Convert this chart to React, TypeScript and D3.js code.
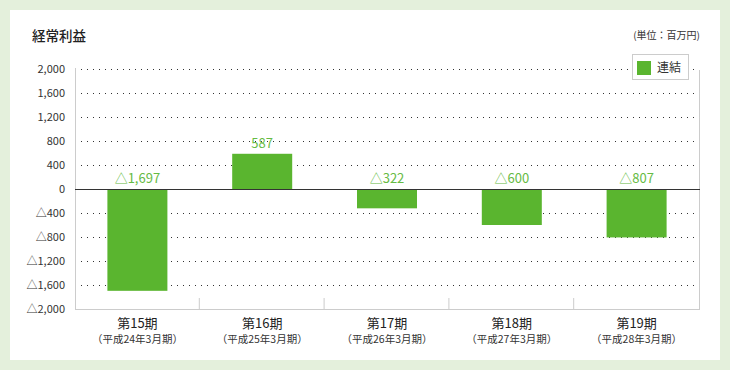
import React from "react";
import * as d3 from "d3";

const periods = ["第15期", "第16期", "第17期", "第18期", "第19期"];
const fiscalYears = [
  "（平成24年3月期）",
  "（平成25年3月期）",
  "（平成26年3月期）",
  "（平成27年3月期）",
  "（平成28年3月期）",
];
const ordinaryProfit = [-1697, 587, -322, -600, -807];
const yTicks = [2000, 1600, 1200, 800, 400, 0, -400, -800, -1200, -1600, -2000];

const width = 730;
const height = 370;
const margin = { top: 69, right: 31, bottom: 61, left: 75 };
const font = "'Noto Sans CJK JP', 'Noto Sans', sans-serif";
const green = "#5ab52f";
const labelGreen = "#66bb44";

// negative numbers are written with △ in Japanese reports
const fmt = (v: number) =>
  v < 0 ? "△" + d3.format(",")(-v) : d3.format(",")(v);

const App = () => {
  const x = d3
    .scaleBand<number>()
    .domain(d3.range(periods.length))
    .range([margin.left, width - margin.right])
    .paddingInner(0)
    .paddingOuter(0);
  const y = d3
    .scaleLinear()
    .domain([-2000, 2000])
    .range([height - margin.bottom, margin.top]);
  const barW = 60;
  const left = margin.left;
  const right = width - margin.right + 1;
  const bottom = y(-2000);

  return (
    <svg
      width={width}
      height={height}
      style={{ position: "absolute", left: 0, top: 0, fontFamily: font }}
    >
      <rect width={width} height={height} fill="#e4f0dc" />
      <rect x={10} y={10} width={710} height={350} fill="#fff" />

      <text x={32} y={41} fontSize={13.5} fontWeight={500} fill="#222">
        経常利益
      </text>
      <text x={700} y={39} fontSize={10} fill="#333" textAnchor="end">
        (単位：百万円)
      </text>

      {/* grid */}
      {yTicks
        .filter((t) => t !== 0 && t !== -2000)
        .map((t) => (
          <line
            key={t}
            x1={left + 6}
            x2={right - 3}
            y1={y(t) + 0.5}
            y2={y(t) + 0.5}
            stroke="#333"
            strokeDasharray="1,5"
          />
        ))}

      {/* frame */}
      <line x1={left + 0.5} x2={left + 0.5} y1={y(2000) - 1} y2={bottom} stroke="#ccc" />
      <line x1={right - 0.5} x2={right - 0.5} y1={y(2000) + 1} y2={bottom} stroke="#ccc" />
      <line x1={left} x2={right} y1={bottom + 0.5} y2={bottom + 0.5} stroke="#ccc" />
      {d3.range(1, periods.length).map((i) => (
        <line
          key={i}
          x1={x(i)! - 0.5}
          x2={x(i)! - 0.5}
          y1={bottom - 11}
          y2={bottom}
          stroke="#ccc"
        />
      ))}

      {/* y labels */}
      {yTicks.map((t) => (
        <text
          key={t}
          x={65}
          y={y(t) + 4}
          fontSize={11}
          fill="#333"
          textAnchor="end"
        >
          {fmt(t)}
        </text>
      ))}

      {/* bars */}
      {ordinaryProfit.map((v, i) => {
        const cx = x(i)! + x.bandwidth() / 2;
        const y0 = y(0);
        const y1 = y(v);
        return (
          <g key={i}>
            <rect
              x={cx - barW / 2}
              y={Math.min(y0, y1)}
              width={barW}
              height={Math.abs(y1 - y0)}
              fill={green}
            />
            <text
              x={cx}
              y={Math.min(y0, y1) - 6}
              fontSize={13}
              fill={labelGreen}
              textAnchor="middle"
            >
              {fmt(v)}
            </text>
          </g>
        );
      })}

      {/* zero line */}
      <line x1={left} x2={right} y1={y(0) + 0.5} y2={y(0) + 0.5} stroke="#333" />

      {/* category labels */}
      {periods.map((p, i) => {
        const cx = x(i)! + x.bandwidth() / 2;
        return (
          <g key={p}>
            <text x={cx} y={328} fontSize={13} fill="#222" textAnchor="middle">
              {p}
            </text>
            <text x={cx} y={343} fontSize={10.5} fill="#333" textAnchor="middle">
              {fiscalYears[i]}
            </text>
          </g>
        );
      })}

      {/* legend */}
      <rect x={632.5} y={54.5} width={56} height={25} fill="#fff" stroke="#ccc" />
      <rect x={637} y={61} width={14} height={14} fill={green} />
      <text x={657} y={72} fontSize={12} fill="#333">
        連結
      </text>
    </svg>
  );
};

export default App;
